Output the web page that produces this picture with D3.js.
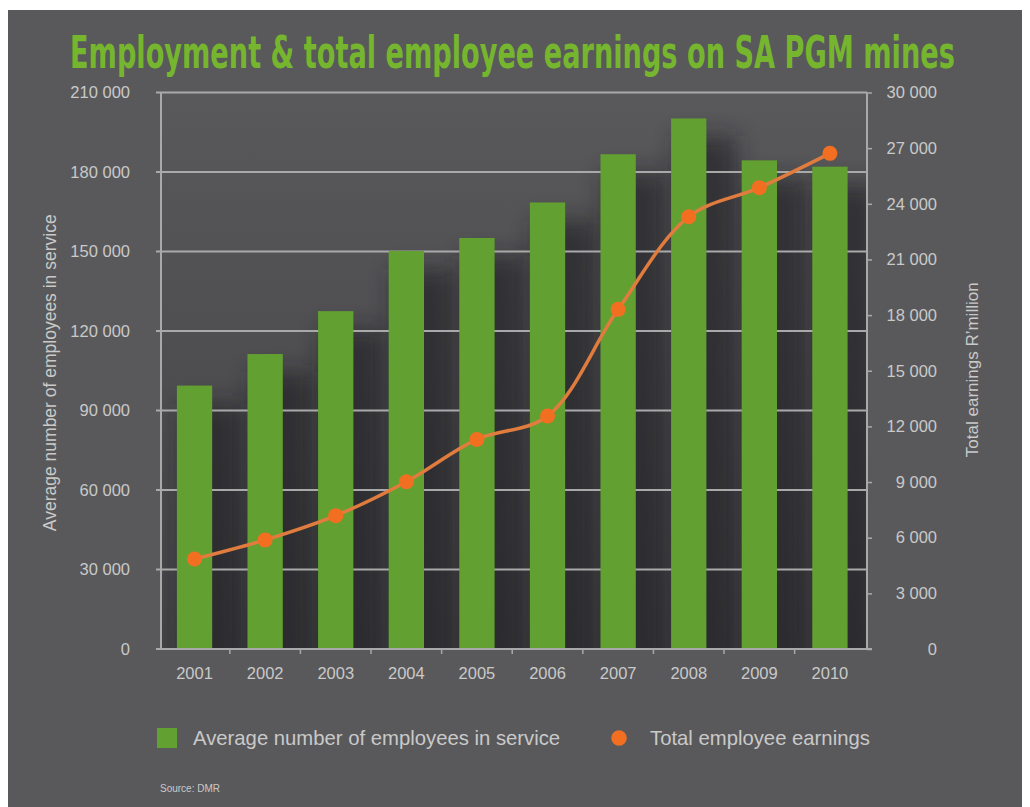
<!DOCTYPE html>
<html>
<head>
<meta charset="utf-8">
<script src="https://cdn.jsdelivr.net/npm/d3@7"></script>
<style>
  body { margin: 0; background: #ffffff; }
  svg { display: block; }
</style>
</head>
<body>
<svg id="chart" width="1030" height="807"></svg>
<script>
// Employment and earnings on South African PGM mines, 2001-2010 (source: DMR)
const years = ["2001", "2002", "2003", "2004", "2005", "2006", "2007", "2008", "2009", "2010"];
const employees = [99400, 111300, 127500, 150200, 155100, 168500, 186700, 200200, 184400, 182000];
const earnings = [4850, 5880, 7190, 9020, 11300, 12560, 18310, 23300, 24870, 26720];
const leftTicks = [0, 30000, 60000, 90000, 120000, 150000, 180000, 210000];
const rightTicks = [0, 3000, 6000, 9000, 12000, 15000, 18000, 21000, 24000, 27000, 30000];

const titleText = "Employment & total employee earnings on SA PGM mines";
const leftTitle = "Average number of employees in service";
const rightTitle = "Total earnings R\u2019million";
const legendBars = "Average number of employees in service";
const legendLine = "Total employee earnings";
const sourceText = "Source: DMR";

const svg = d3.select("#chart");
const W = 1030, H = 807;
const plot = { left: 161, right: 867, top: 92.5, bottom: 649 };
const font = "'Liberation Sans', Arial, Helvetica, sans-serif";
const textGrey = "#c9c9c9";
const gridGrey = "#a9a9a9";
const barGreen = "#62a131";
const dotOrange = "#f26f21";
const lineOrange = "#df7c3e";

const fmt = d3.formatLocale({ decimal: ".", thousands: " ", grouping: [3], currency: ["", ""] }).format(",d");

// Scales
const x = d3.scaleBand().domain(years).range([plot.left, plot.right])
  .paddingInner(0.5).paddingOuter(0.25).align(0.45);
const yL = d3.scaleLinear().domain([0, 210000]).range([plot.bottom, plot.top]);
const yR = d3.scaleLinear().domain([0, 30000]).range([plot.bottom, plot.top]);

// Defs: backgrounds and bar shadow blur
const defs = svg.append("defs");
const bgGrad = defs.append("linearGradient").attr("id", "plotBg")
  .attr("x1", 0).attr("y1", 0).attr("x2", 0).attr("y2", 1);
bgGrad.append("stop").attr("offset", "0%").attr("stop-color", "#59595b");
bgGrad.append("stop").attr("offset", "100%").attr("stop-color", "#434345");

const blur = defs.append("filter").attr("id", "shadowBlur")
  .attr("x", "-60%").attr("y", "-20%").attr("width", "220%").attr("height", "140%");
blur.append("feGaussianBlur").attr("stdDeviation", 11);

const clip = defs.append("clipPath").attr("id", "plotClip");
clip.append("rect").attr("x", plot.left).attr("y", plot.top)
  .attr("width", plot.right - plot.left).attr("height", plot.bottom - plot.top);

// Page background
svg.append("rect").attr("x", 8).attr("y", 10).attr("width", 1014).attr("height", H - 10)
  .attr("fill", "#59595b");

// Plot area background
svg.append("rect").attr("x", plot.left).attr("y", plot.top)
  .attr("width", plot.right - plot.left).attr("height", plot.bottom - plot.top)
  .attr("fill", "url(#plotBg)");

// Soft shadows cast by the bars
svg.append("g").attr("clip-path", "url(#plotClip)")
  .selectAll("rect").data(years).join("rect")
  .attr("x", (d) => x(d) + 4)
  .attr("y", (d, i) => yL(employees[i]) + 18)
  .attr("width", x.bandwidth() + 26)
  .attr("height", (d, i) => plot.bottom - yL(employees[i]) + 20)
  .attr("fill", "#1f1f21").attr("opacity", 0.6)
  .attr("filter", "url(#shadowBlur)");

// Horizontal gridlines from the left axis
svg.append("g").selectAll("line").data(leftTicks).join("line")
  .attr("x1", plot.left - 5).attr("x2", plot.right)
  .attr("y1", (d) => yL(d)).attr("y2", (d) => yL(d))
  .attr("stroke", gridGrey).attr("stroke-width", 2);

// Axis lines
svg.append("line").attr("x1", plot.left).attr("x2", plot.left)
  .attr("y1", plot.top).attr("y2", plot.bottom + 1)
  .attr("stroke", gridGrey).attr("stroke-width", 2);
svg.append("line").attr("x1", plot.right).attr("x2", plot.right)
  .attr("y1", plot.top).attr("y2", plot.bottom + 1)
  .attr("stroke", gridGrey).attr("stroke-width", 2);

// Bars
svg.append("g").selectAll("rect").data(years).join("rect")
  .attr("x", (d) => x(d))
  .attr("y", (d, i) => yL(employees[i]))
  .attr("width", x.bandwidth())
  .attr("height", (d, i) => plot.bottom - yL(employees[i]))
  .attr("fill", barGreen);

// Baseline redrawn over the bars
svg.append("line").attr("x1", plot.left - 5).attr("x2", plot.right + 5)
  .attr("y1", plot.bottom).attr("y2", plot.bottom)
  .attr("stroke", gridGrey).attr("stroke-width", 2);

// Left axis labels
const leftAxis = d3.axisLeft(yL).tickValues(leftTicks).tickFormat(fmt).tickSize(0).tickPadding(31);
const gL = svg.append("g").attr("transform", `translate(${plot.left},0)`).call(leftAxis);
gL.select(".domain").remove();
gL.selectAll("text").attr("fill", textGrey).style("font-family", font).style("font-size", "16.5px");

// Right axis: small ticks every 3 000, labels right-aligned
const rightAxis = d3.axisRight(yR).tickValues(rightTicks).tickFormat(fmt).tickSize(5).tickPadding(0);
const gR = svg.append("g").attr("transform", `translate(${plot.right},0)`).call(rightAxis);
gR.select(".domain").remove();
gR.selectAll("line").attr("stroke", gridGrey).attr("stroke-width", 1.5);
gR.selectAll("text").attr("fill", textGrey).style("font-family", font).style("font-size", "16.5px")
  .attr("x", 70).attr("text-anchor", "end");

// Bottom axis: ticks at category boundaries, labels centred under bars
const boundaries = years.slice(1).map((d) => x(d) - x.step() * x.paddingInner() / 2);
svg.append("g").selectAll("line").data(boundaries).join("line")
  .attr("x1", (d) => d).attr("x2", (d) => d)
  .attr("y1", plot.bottom).attr("y2", plot.bottom + 5)
  .attr("stroke", gridGrey).attr("stroke-width", 1.5);
const bottomAxis = d3.axisBottom(x).tickSize(0).tickPadding(18);
const gB = svg.append("g").attr("transform", `translate(0,${plot.bottom})`).call(bottomAxis);
gB.select(".domain").remove();
gB.selectAll("text").attr("fill", textGrey).style("font-family", font).style("font-size", "16.5px");

// Earnings line and markers
const cx = (i) => x(years[i]) + x.bandwidth() / 2;
const line = d3.line().x((d, i) => cx(i)).y((d) => yR(d)).curve(d3.curveCatmullRom.alpha(0.5));
svg.append("path").datum(earnings).attr("d", line)
  .attr("fill", "none").attr("stroke", lineOrange).attr("stroke-width", 3.5);
svg.append("g").selectAll("circle").data(earnings).join("circle")
  .attr("cx", (d, i) => cx(i)).attr("cy", (d) => yR(d)).attr("r", 7.5)
  .attr("fill", dotOrange);

// Title: condensed bold face, horizontally scaled to span the chart width
const title = svg.append("text").attr("x", 0).attr("y", 0)
  .style("font-family", "'Liberation Sans Narrow', 'DejaVu Sans Condensed', Arial, sans-serif")
  .style("font-weight", "bold").style("font-size", "44px")
  .attr("fill", "#76b52e").text(titleText);
const titleWidth = title.node().getComputedTextLength();
title.attr("transform", `translate(70,68) scale(${885 / titleWidth},1)`);

// Axis titles
svg.append("text").attr("transform", `translate(56,${(plot.top + plot.bottom) / 2 + 2}) rotate(-90)`)
  .attr("text-anchor", "middle").attr("fill", textGrey)
  .style("font-family", font).style("font-size", "17.5px").text(leftTitle);
svg.append("text").attr("transform", `translate(978,${(plot.top + plot.bottom) / 2 - 1}) rotate(-90)`)
  .attr("text-anchor", "middle").attr("fill", textGrey)
  .style("font-family", font).style("font-size", "17px").text(rightTitle);

// Legend
svg.append("rect").attr("x", 157).attr("y", 728).attr("width", 20).attr("height", 20).attr("fill", barGreen);
svg.append("text").attr("x", 193).attr("y", 745).attr("fill", textGrey)
  .style("font-family", font).style("font-size", "20.3px").text(legendBars);
svg.append("path").attr("d", d3.symbol().type(d3.symbolCircle).size(190)())
  .attr("transform", "translate(619,738)").attr("fill", dotOrange);
svg.append("text").attr("x", 650).attr("y", 745).attr("fill", textGrey)
  .style("font-family", font).style("font-size", "20.3px").text(legendLine);

// Source note
svg.append("text").attr("x", 160).attr("y", 792).attr("fill", textGrey)
  .style("font-family", font).style("font-size", "10px").text(sourceText);
</script>
</body>
</html>
